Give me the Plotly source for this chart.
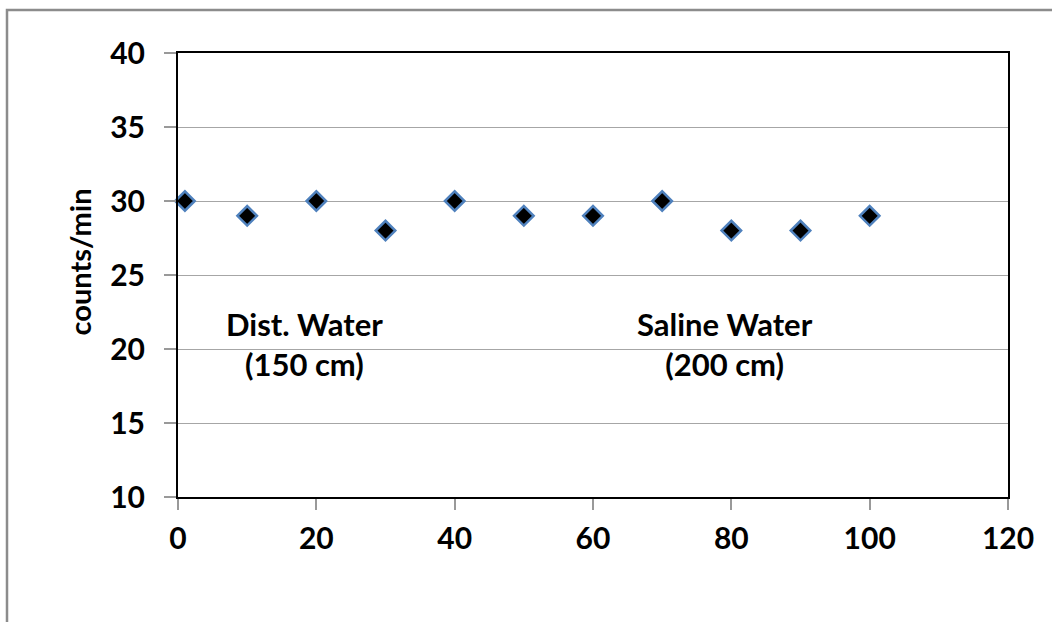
import plotly.graph_objects as go

# Measurement positions and count rates
positions = [1, 10, 20, 30, 40, 50, 60, 70, 80, 90, 100]
counts = [30, 29, 30, 28, 30, 29, 29, 30, 28, 28, 29]

x_ticks = [0, 20, 40, 60, 80, 100, 120]
y_ticks = [10, 15, 20, 25, 30, 35, 40]

W, H = 1052, 622
L, R, T, B = 178, 1008, 53, 497

FONT = "Lato"

fig = go.Figure()
fig.add_trace(go.Scatter(
    x=positions, y=counts, mode="markers",
    marker=dict(symbol="diamond", size=15, color="black",
                line=dict(color="#4f81bd", width=2.5)),
    showlegend=False, cliponaxis=False,
))

tick_font = dict(family=FONT, size=30, color="black", weight="bold")

fig.update_layout(
    width=W, height=H,
    margin=dict(l=L, r=W - R, t=T, b=H - B, pad=0),
    paper_bgcolor="white", plot_bgcolor="white",
    font=dict(family=FONT, color="black", size=26),
    xaxis=dict(range=[0, 120], tickvals=x_ticks, showgrid=False,
               showline=True, linecolor="black", linewidth=2, mirror=True,
               ticks="outside", ticklen=11, tickcolor="#999999", tickwidth=1.5,
               ticklabelstandoff=3, tickfont=tick_font, zeroline=False),
    yaxis=dict(range=[10, 40], tickvals=y_ticks, showgrid=True,
               gridcolor="#a6a6a6", gridwidth=1.2,
               showline=True, linecolor="black", linewidth=2, mirror=True,
               ticks="outside", ticklen=12, tickcolor="#999999", tickwidth=1.5,
               ticklabelstandoff=13, tickfont=tick_font, zeroline=False),
    annotations=[
        dict(x=(59 - L) / (R - L), y=(B - 262) / (B - T), xref="paper", yref="paper",
             text="<b>counts/min</b>", textangle=-90, showarrow=False,
             font=dict(family=FONT, size=29, color="black")),
        dict(x=18.36, y=20.34, xref="x", yref="y", text="<b>Dist. Water<br>(150 cm)</b>",
             showarrow=False, font=dict(family=FONT, size=31, color="black"), align="center"),
        dict(x=79.1, y=20.34, xref="x", yref="y", text="<b>Saline Water<br>(200 cm)</b>",
             showarrow=False, font=dict(family=FONT, size=31, color="black"), align="center"),
    ],
    shapes=[
        dict(type="rect", xref="paper", yref="paper",
             x0=(7 - L) / (R - L), x1=(1070 - L) / (R - L),
             y0=(B - 640) / (B - T), y1=(B - 10) / (B - T),
             line=dict(color="#8c8c8c", width=2.5), layer="below"),
    ],
)

fig.write_html("out.html")
